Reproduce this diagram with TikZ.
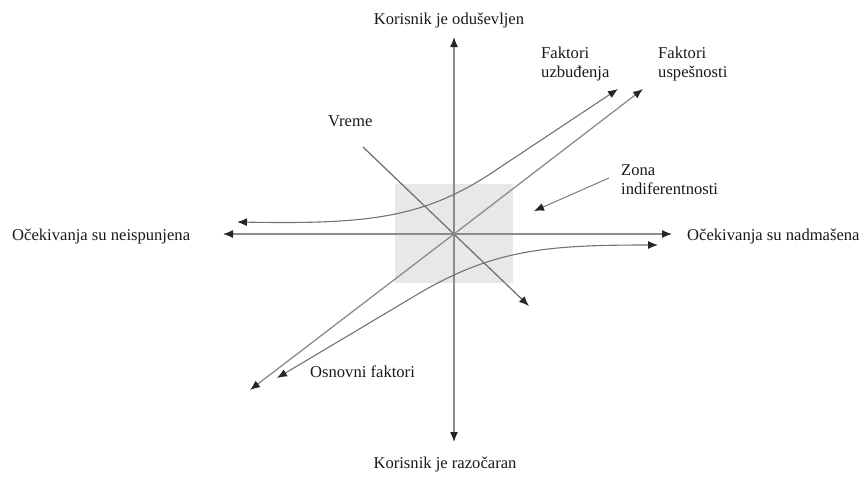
\documentclass[tikz,border=0pt]{standalone}
\usepackage{fontspec}
\setmainfont{Liberation Serif}
\usetikzlibrary{arrows.meta}
\begin{document}
\begin{tikzpicture}[x=1pt,y=-1pt,
  tip/.tip={Latex[length=10pt,width=8pt,color=black!85]},
  axis/.style={draw=black!45,line width=1.3pt,-tip},
  curve/.style={draw=black!55,line width=1.1pt,tip-tip},
  lbl/.style={font=\fontsize{16.6}{19}\selectfont,inner sep=0pt,text=black!90},
  lbll/.style={lbl,align=left}]
\useasboundingbox (0,0) rectangle (864,480);
% zone of indifference
\fill[black!9] (395,184) rectangle (513,283);
% key points
\coordinate (O) at (454,234);
\coordinate (top) at (454,37);
\coordinate (bot) at (454,442);
\coordinate (lft) at (223,234);
\coordinate (rgt) at (672,234);
\coordinate (tA) at (363,147);
\coordinate (tB) at (529,306);
\coordinate (sA) at (250,390);
\coordinate (sB) at (643,89);
\coordinate (uA) at (237,222);
\coordinate (uB) at (618,89);
\coordinate (bA) at (658,245);
\coordinate (bB) at (277,378);
\coordinate (zA) at (609,178);
\coordinate (zB) at (534,211);
% axes
\draw[axis] (O) -- (top);
\draw[axis] (O) -- (bot);
\draw[axis] (O) -- (lft);
\draw[axis] (O) -- (rgt);
% time
\draw[axis,draw=black!55] (tA) -- (tB);
% performance factors
\draw[axis] (O) -- (sA);
\draw[axis] (O) -- (sB);
% excitement factors
\draw[curve] (uB) -- (490,174) .. controls (420,220) and (360,224) .. (uA);
% basic factors
\draw[curve] (bA) .. controls (548,245) and (494,249) .. (418,294) -- (bB);
% pointer to zone
\draw[axis,draw=black!55,line width=0.9pt] (zA) -- (zB);
% labels
\node[lbl] (lt) at (449,20) {Korisnik je oduševljen};
\node[lbl] (lb) at (445,464) {Korisnik je razočaran};
\node[lbl,anchor=west] (ll) at (12,236) {Očekivanja su neispunjena};
\node[lbl,anchor=west] (lr) at (687,236) {Očekivanja su nadmašena};
\node[lbl,anchor=west] (lv) at (328,121) {Vreme};
\node[lbll,anchor=west] (lu) at (541,64) {Faktori\\uzbuđenja};
\node[lbll,anchor=west] (ls) at (658,64) {Faktori\\uspešnosti};
\node[lbll,anchor=west] (lz) at (621,180) {Zona\\indiferentnosti};
\node[lbl,anchor=west] (lo) at (310,372) {Osnovni faktori};
\end{tikzpicture}
\end{document}
